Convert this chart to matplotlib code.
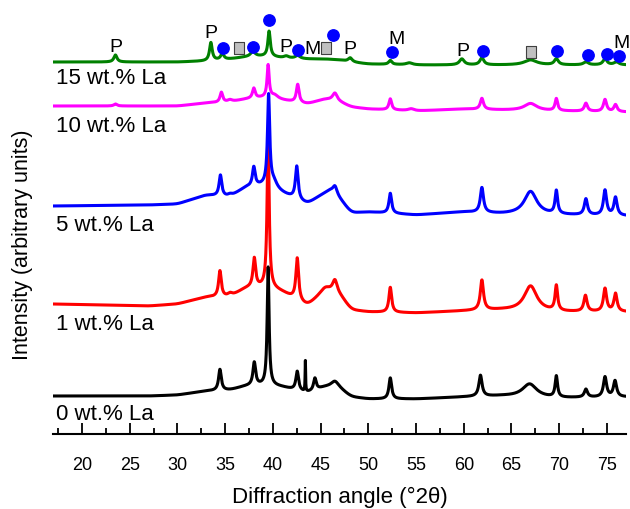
import numpy as np
import matplotlib
matplotlib.use("Agg")
import matplotlib.pyplot as plt
from matplotlib.path import Path

plt.rcParams['font.family'] = ['Liberation Sans', 'DejaVu Sans']

# ---- data (intensity in arbitrary units, stacked) ----
labels = ["0 wt.% La", "1 wt.% La", "5 wt.% La", "10 wt.% La", "15 wt.% La"]
colors = ["#000000", "#ff0000", "#0000ff", "#ff00ff", "#008000"]

base_x = [17, 27, 30, 33, 35.5, 37.2, 39.5, 41, 43.6, 45.5, 47, 48.2, 50, 55, 60, 64, 70, 77]
base_0 = [38, 38, 39, 43, 44, 48, 49, 47, 41, 47, 45, 37, 35, 35, 37, 38, 36, 37]
base_1 = [130, 128, 130, 137, 137, 146, 147, 142, 128, 143, 139, 124, 122, 121, 123, 124, 122, 122]
base_5 = [228, 229, 230, 239, 237, 247, 249, 241, 230, 241, 235, 221, 222, 219, 222, 220, 219, 218]
base_10 = [328, 328, 328, 331, 332, 335, 337, 334, 330, 335, 332, 327, 325, 323, 325, 324, 323, 322]
base_15 = [372, 372, 372, 373, 375, 377, 378, 376, 375, 375, 374, 372, 370, 369, 369, 369, 369, 369]

# peaks: (position 2theta, height, half width)
peaks_0 = [(34.45, 21, 0.17), (38.05, 23, 0.17), (39.5, 118, 0.12), (42.55, 19, 0.17),
           (43.4, 31, 0.03), (44.4, 12, 0.17), (46.5, 7, 0.5), (52.3, 21, 0.17),
           (61.75, 21, 0.2), (66.9, 13, 0.9), (69.7, 21, 0.15), (72.8, 8, 0.2),
           (74.8, 20, 0.2), (75.85, 16, 0.2)]
peaks_1 = [(34.45, 26, 0.17), (35.5, 3, 0.3), (38.05, 29, 0.17), (39.5, 150, 0.13),
           (42.55, 42, 0.17), (45.5, 4, 0.6), (46.5, 13, 0.3), (52.3, 25, 0.17),
           (61.9, 30, 0.2), (67.0, 25, 0.8), (69.7, 25, 0.16), (72.75, 16, 0.2),
           (74.8, 23, 0.2), (75.9, 18, 0.2)]
peaks_5 = [(34.5, 21, 0.17), (35.5, 2, 0.3), (38.0, 19, 0.17), (39.55, 90, 0.14),
           (40.1, 6, 0.4), (42.5, 33, 0.17), (46.0, 3, 0.4), (46.5, 10, 0.3),
           (52.3, 20, 0.17), (61.9, 25, 0.2), (67.0, 23, 0.8), (69.7, 23, 0.16),
           (72.8, 16, 0.2), (74.8, 25, 0.2), (75.9, 18, 0.2)]
peaks_10 = [(23.5, 2, 0.2), (34.6, 10, 0.17), (35.5, 2, 0.3), (38.0, 10, 0.17),
            (39.5, 32, 0.13), (40.2, 3, 0.4), (42.6, 18, 0.17), (46.5, 8, 0.3),
            (52.3, 11, 0.17), (54.5, 2, 0.4), (61.9, 11, 0.2), (67.0, 7, 0.8),
            (69.7, 12, 0.16), (72.8, 8, 0.2), (74.8, 12, 0.2), (75.9, 7, 0.2)]
peaks_15 = [(23.5, 7, 0.2), (33.5, 18, 0.17), (34.7, 6, 0.2), (37.9, 5, 0.3),
            (39.6, 25, 0.15), (41.4, 2, 0.3), (42.6, 3, 0.3), (48.1, 4, 0.25),
            (52.3, 4, 0.2), (54.3, 2, 0.4), (59.8, 6, 0.3), (61.9, 7, 0.25),
            (67.0, 5, 0.8), (69.7, 6, 0.25), (72.8, 3, 0.3), (74.8, 6, 0.25), (76.0, 3, 0.3)]

label_y = [20, 110, 209, 309, 356]

circle_x = [34.74, 37.94, 39.59, 42.63, 46.26, 52.5, 61.97, 69.73, 72.97, 74.97, 76.3]
circle_y = [386, 387, 414, 384, 399, 382, 383, 383, 379, 380, 378]
square_x = [36.45, 45.6, 67.04]
square_y = [386, 386, 382]
letter_text = ["P", "P", "P", "P", "P", "M", "M", "M"]
letter_x = [23.5, 33.5, 41.4, 48.1, 59.95, 44.2, 53.0, 76.5]
letter_y = [388, 402, 388, 385, 383, 386, 396, 392]

xticks = [20, 25, 30, 35, 40, 45, 50, 55, 60, 65, 70, 75]

# ---- figure ----
fig = plt.figure(figsize=(6.3, 5.1), dpi=100)
ax = fig.add_axes([53.4 / 630, 75 / 510, (626 - 53.4) / 630, 435 / 510])

x = np.linspace(17, 77, 6000)
k = np.arange(-120, 121)
kernel = np.exp(-0.5 * (k / 35.0) ** 2)
kernel /= kernel.sum()
bases = [base_0, base_1, base_5, base_10, base_15]
peaks = [peaks_0, peaks_1, peaks_5, peaks_10, peaks_15]
for b, pk, c in zip(bases, peaks, colors):
    bl = np.interp(x, base_x, b)
    padded = np.concatenate([np.full(120, bl[0]), bl, np.full(120, bl[-1])])
    y = np.convolve(padded, kernel, mode='same')[120:-120]
    for (p, h, w) in pk:
        y = y + h * w**2 / ((x - p) ** 2 + w**2)
    ax.plot(x, y, color=c, lw=2.2, solid_joinstyle='round')

for lab, ly in zip(labels, label_y):
    ax.text(17.3, ly, lab, fontsize=16, va='center', ha='left')

ax.plot(circle_x, circle_y, 'o', color='#0000ff', ms=8.2, mec='#0000ff', ls='none')
rect = Path([(-0.75, -1), (0.75, -1), (0.75, 1), (-0.75, 1), (-0.75, -1)],
            [Path.MOVETO, Path.LINETO, Path.LINETO, Path.LINETO, Path.CLOSEPOLY])
ax.plot(square_x, square_y, marker=rect, color='#c0c0c0', mec='#404040', mew=0.8,
        ms=9, ls='none')
for t, lx, ly in zip(letter_text, letter_x, letter_y):
    ax.text(lx, ly, t, fontsize=14, ha='center', va='center')

ax.set_xlim(17, 77)
ax.set_ylim(0, 435)
for s in ['top', 'right', 'left']:
    ax.spines[s].set_visible(False)
ax.spines['bottom'].set_linewidth(1.5)
ax.set_yticks([])
ax.set_xticks(xticks)
ax.set_xticks(np.arange(17.5, 77, 2.5), minor=True)
ax.tick_params(axis='x', which='major', direction='in', length=8, width=1.3,
               labelsize=13, pad=16)
ax.tick_params(axis='x', which='minor', direction='in', length=4.5, width=1.3)
ax.set_xlabel("Diffraction angle (°2θ)", fontsize=16, va='center')
ax.xaxis.set_label_coords(0.5, (435 - 497) / 435)
ax.set_ylabel("Intensity (arbitrary units)", fontsize=15.5, va='center')
ax.yaxis.set_label_coords((23 - 53.4) / 572.6, (435 - 245) / 435)
ax.patch.set_alpha(0)

fig.savefig("out.png", dpi=100)
